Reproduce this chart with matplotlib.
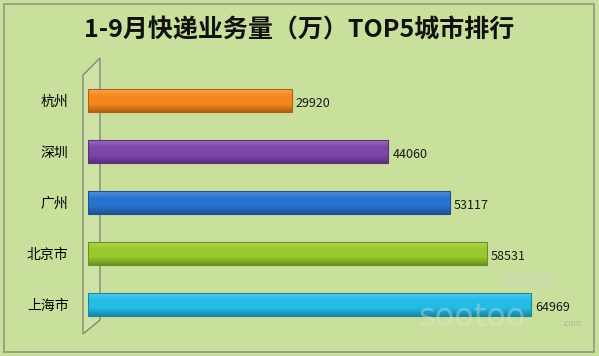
import matplotlib
matplotlib.use("Agg")
import matplotlib.pyplot as plt
import numpy as np
from matplotlib.patches import Polygon, Rectangle
from matplotlib.colors import LinearSegmentedColormap, to_rgb

plt.rcParams['font.family'] = ['Noto Sans CJK SC', 'DejaVu Sans']

cities = ['杭州', '深圳', '广州', '北京市', '上海市']
values = [29920, 44060, 53117, 58531, 64969]
colors = ['#f7871c', '#7d45aa', '#2a72d0', '#98c92c', '#22bce6']
title = '1-9月快递业务量（万）TOP5城市排行'

W, H = 599, 356
fig = plt.figure(figsize=(W / 100, H / 100), dpi=100)
bg = '#c9df9c'
fig.patch.set_facecolor(bg)
fig.patches.append(Rectangle((4 / W, 4 / H), 590 / W, 348 / H, transform=fig.transFigure,
                             fill=False, edgecolor='#8e9a80', linewidth=1.2, zorder=-2))

# 3D wall (drawn behind the axes)
wall = Polygon([(83 / W, 1 - 75 / H), (100 / W, 1 - 58 / H), (100 / W, 1 - 320 / H), (83 / W, 1 - 334 / H)],
               closed=True, transform=fig.transFigure, facecolor='#cfe2a8', edgecolor='#7f8a76',
               linewidth=1.0, zorder=-1)
fig.patches.append(wall)

left, right = 88, 565
top, bottom = 75, 330
ax = fig.add_axes([left / W, 1 - bottom / H, (right - left) / W, (bottom - top) / H])
ax.set_facecolor('none')
ax.set_xlim(0, 70000)
ax.set_ylim(len(cities) - 0.5, -0.5)
for s in ax.spines.values():
    s.set_visible(False)
ax.set_xticks([])
ax.set_yticks(range(len(cities)))
ax.set_yticklabels(cities, fontsize=10)
ax.tick_params(axis='y', length=0, pad=14)

h = 0.47
for i, (v, c) in enumerate(zip(values, colors)):
    base = np.array(to_rgb(c))
    dark = base * 0.72
    light = np.clip(base + (1 - base) * 0.25, 0, 1)
    cmap = LinearSegmentedColormap.from_list('g', [light, base, base, dark])
    grad = np.linspace(0, 1, 64).reshape(-1, 1)
    im = ax.imshow(grad, aspect='auto', cmap=cmap, extent=(0, v, i + h / 2, i - h / 2),
                   origin='upper', zorder=2)
    b = ax.barh(i, v, height=h, color='none', edgecolor=dark, linewidth=0.8, zorder=3)
    im.set_clip_path(b.patches[0])
    ax.text(v + 600, i + 0.05, f'{v}', va='center', ha='left', fontsize=9, color='#1a1a1a', zorder=4)

fig.text(0.5, 1 - 30 / H, title, ha='center', va='center', fontsize=18, fontweight='bold', color='#111111')

# watermark
fig.text(528 / W, 1 - 281 / H, '速途网', ha='center', va='center', fontsize=12, style='italic',
         color='#c8d6c0', alpha=0.9)
fig.text(472 / W, 1 - 318 / H, 'sootoo', ha='center', va='center', fontsize=23,
         color='#e4ecd6', alpha=0.35, family='DejaVu Sans')
fig.text(572 / W, 1 - 324 / H, '.com', ha='center', va='center', fontsize=6, color='#aab5a0')

fig.savefig('out.png', dpi=100, facecolor=fig.get_facecolor())
